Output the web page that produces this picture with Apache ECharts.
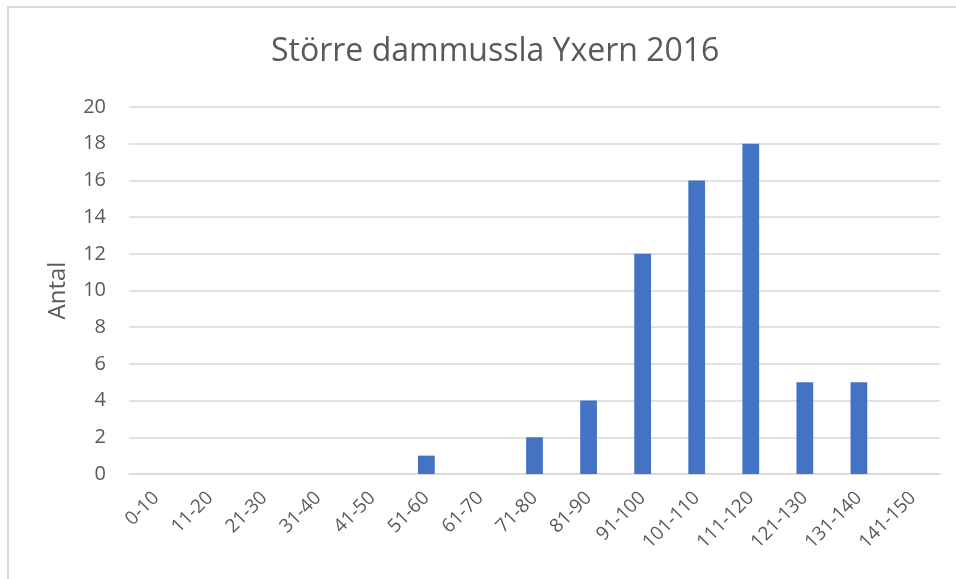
<!DOCTYPE html>
<html><head><meta charset="utf-8">
<script src="https://cdn.jsdelivr.net/npm/echarts@6/dist/echarts.min.js"></script>
<style>html,body{margin:0;padding:0;background:#fff;}#c{width:956px;height:579px;}</style>
</head><body><div id="c"></div>
<script>
const categories = ['0-10','11-20','21-30','31-40','41-50','51-60','61-70','71-80','81-90','91-100','101-110','111-120','121-130','131-140','141-150'];
const counts = [0,0,0,0,0,1,0,2,4,12,16,18,5,5,0];
const yTicks = {min:0, max:20, interval:2};
const titleText = 'Större dammussla Yxern 2016';
const yName = 'Antal';

const chart = echarts.init(document.getElementById('c'), null, {renderer:'canvas'});
const font = '"Open Sans", "Noto Sans", sans-serif';
chart.setOption({
  animation:false,
  backgroundColor:'#fff',
  graphic:[{type:'rect', shape:{x:8, y:7, width:1000, height:700}, style:{fill:'none', stroke:'#d9d9d9', lineWidth:2}, silent:true}],
  title:{text:titleText, left:266, top:31, textStyle:{fontFamily:font, fontSize:32, fontWeight:'normal', color:'#595959'}},
  grid:{left:129, right:16, top:107, bottom:105, containLabel:false},
  xAxis:{type:'category', data:categories,
    axisLine:{lineStyle:{color:'#d9d9d9', width:1.5}}, axisTick:{show:false},
    axisLabel:{rotate:45, interval:0, margin:21, fontFamily:font, fontSize:19, color:'#595959'}},
  yAxis:{type:'value', min:yTicks.min, max:yTicks.max, interval:yTicks.interval,
    name:yName, nameLocation:'middle', nameGap:59, nameTextStyle:{fontFamily:font, fontSize:24, color:'#595959'},
    axisLine:{show:false}, axisTick:{show:false},
    splitLine:{lineStyle:{color:'#d9d9d9', width:1.5}},
    axisLabel:{margin:23, fontFamily:font, fontSize:20, color:'#595959'}},
  series:[{type:'bar', data:counts, barWidth:'31%', itemStyle:{color:'#4472c4'}}]
});
</script></body></html>
